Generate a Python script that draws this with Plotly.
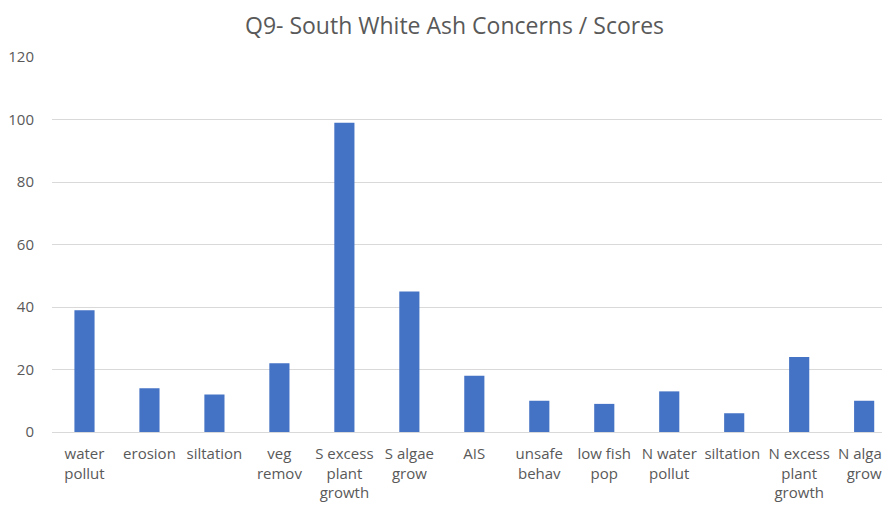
import plotly.graph_objects as go

categories = [
    "water<br>pollut", "erosion", "siltation", "veg<br>remov",
    "S excess<br>plant<br>growth", "S algae<br>grow", "AIS", "unsafe<br>behav",
    "low fish<br>pop", "N water<br>pollut", "siltation ", "N excess<br>plant<br>growth",
    "N algae<br>grow",
]
scores = [39, 14, 12, 22, 99, 45, 18, 10, 9, 13, 6, 24, 10]
y_ticks = [0, 20, 40, 60, 80, 100, 120]

FONT = "Open Sans"
GREY = "#595959"

# page body has an 8px default margin: figure starts at (8, 8)
W, H = 882, 502
ML, MR, MT, MB = 44, 0, 49, 78
PW, PH = W - ML - MR, H - MT - MB

fig = go.Figure(
    go.Bar(
        x=list(range(len(categories))),
        y=scores,
        marker=dict(color="#4472C4", line=dict(width=0)),
        width=0.31,
    )
)

fig.update_layout(
    width=W,
    height=H,
    paper_bgcolor="white",
    plot_bgcolor="white",
    margin=dict(l=ML, r=MR, t=MT, b=MB),
    showlegend=False,
    annotations=[
        dict(
            text="Q9- South White Ash Concerns / Scores",
            xref="paper",
            yref="paper",
            x=(450 - ML) / PW,
            xanchor="center",
            y=1 + (MT - 17) / PH,
            yanchor="middle",
            showarrow=False,
            font=dict(family=FONT, size=23, color=GREY),
        )
    ],
    xaxis=dict(
        tickmode="array",
        tickvals=list(range(len(categories))),
        ticktext=categories,
        range=[-0.5, 12.29],
        showgrid=False,
        showline=False,
        zeroline=False,
        ticks="",
        ticklabelstandoff=11,
        ticklabeloverflow="allow",
        tickfont=dict(family=FONT, size=15, color=GREY),
    ),
    yaxis=dict(
        range=[0, 120],
        tickvals=y_ticks,
        showgrid=True,
        gridcolor="#D9D9D9",
        gridwidth=1,
        zeroline=True,
        zerolinecolor="#D9D9D9",
        zerolinewidth=1,
        showline=False,
        ticks="",
        ticklabelstandoff=17,
        tickfont=dict(family=FONT, size=15, color=GREY),
    ),
)

fig.write_html("out.html")
